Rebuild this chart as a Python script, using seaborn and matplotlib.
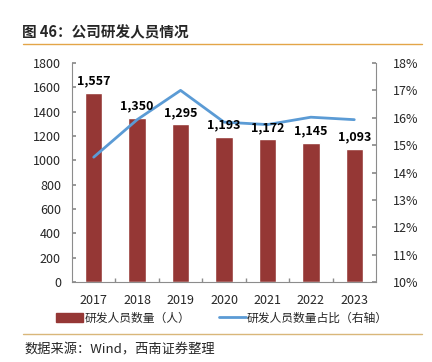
import matplotlib
matplotlib.use("Agg")
import matplotlib.pyplot as plt
import seaborn as sns
import numpy as np
import pandas as pd
from matplotlib.lines import Line2D
from matplotlib.patches import Patch
from matplotlib.ticker import FuncFormatter, MultipleLocator, FixedLocator

years = ["2017", "2018", "2019", "2020", "2021", "2022", "2023"]
staff = [1557, 1350, 1295, 1193, 1172, 1145, 1093]
share = [14.56, 15.93, 17.0, 15.84, 15.75, 16.02, 15.93]
bar_label_name = "研发人员数量（人）"
line_label_name = "研发人员数量占比（右轴）"
title_text = "图 46：公司研发人员情况"
source_text = "数据来源：Wind，西南证券整理"

sns.set_theme(style="white")
plt.rcParams["font.family"] = ["Noto Sans CJK SC", "DejaVu Sans"]

BAR = "#953735"
LINE = "#5B9BD5"
SPINE = "#8C8C8C"

df = pd.DataFrame({"year": years, "staff": staff, "idx": np.arange(len(years)), "share": share})

fig = plt.figure(figsize=(4.32, 3.62), dpi=100)
ax = fig.add_axes([72/432, 1-282/362, (376-72)/432, (282-63)/362])

sns.barplot(data=df, x="year", y="staff", color=BAR, width=0.4, saturation=1, ax=ax)
ax.set_xlim(-0.5, len(years)-0.5)
ax.set_ylim(0, 1800)
ax.yaxis.set_major_locator(MultipleLocator(200))
ax.set_xlabel("")
ax.set_ylabel("")

ax2 = ax.twinx()
sns.lineplot(data=df, x="idx", y="share", color=LINE, linewidth=2, ax=ax2)
ax2.set_ylim(10, 18)
ax2.yaxis.set_major_locator(MultipleLocator(1))
ax2.yaxis.set_major_formatter(FuncFormatter(lambda v, p: f"{v:.0f}%"))
ax2.set_xlabel("")
ax2.set_ylabel("")
ax2.set_xlim(-0.5, len(years)-0.5)

# bar value labels drawn above the line
for i, v in enumerate(staff):
    ax2.annotate(f"{v:,}", xy=(i, v), xycoords=ax.transData, xytext=(0, 4),
                 textcoords="offset points", ha="center", va="bottom",
                 fontsize=9, fontweight="bold", color="black", zorder=5)

for a in (ax, ax2):
    a.spines["top"].set_visible(False)
    for s in ("left", "right", "bottom"):
        a.spines[s].set_color(SPINE)
        a.spines[s].set_linewidth(0.8)
ax.spines["right"].set_visible(False)
ax2.spines["left"].set_visible(False)
ax2.spines["bottom"].set_visible(False)

ax.tick_params(axis="y", direction="in", length=3, color=SPINE, labelsize=9, pad=8, left=True)
ax2.tick_params(axis="y", direction="in", length=3, color=SPINE, labelsize=9, pad=12, right=True)
ax.tick_params(axis="x", which="major", length=0, labelsize=9, pad=9)
ax.xaxis.set_minor_locator(FixedLocator(np.arange(0.5, len(years)-1, 1)))
ax.tick_params(axis="x", which="minor", direction="in", length=3, color=SPINE, bottom=True)

handles = [Patch(facecolor=BAR, edgecolor=BAR), Line2D([0], [0], color=LINE, linewidth=2)]
fig.legend(handles, [bar_label_name, line_label_name], loc="center",
           bbox_to_anchor=(222/432, 1-318/362), ncol=2, frameon=False, fontsize=8.5,
           handlelength=2.3, handleheight=0.75, handletextpad=0.1, columnspacing=2.4)

fig.text(22/432, 1-32/362, title_text, fontsize=10.5, fontweight="bold", va="center", ha="left")
fig.add_artist(Line2D([23/432, 422/432], [1-44/362, 1-44/362], color="#E3A548", linewidth=1.0))
fig.add_artist(Line2D([23/432, 422/432], [1-334/362, 1-334/362], color="#D9B77A", linewidth=1.0))
fig.text(24/432, 1-350/362, source_text, fontsize=9.5, style="italic", va="center", ha="left")

fig.savefig("out.png", dpi=100)
